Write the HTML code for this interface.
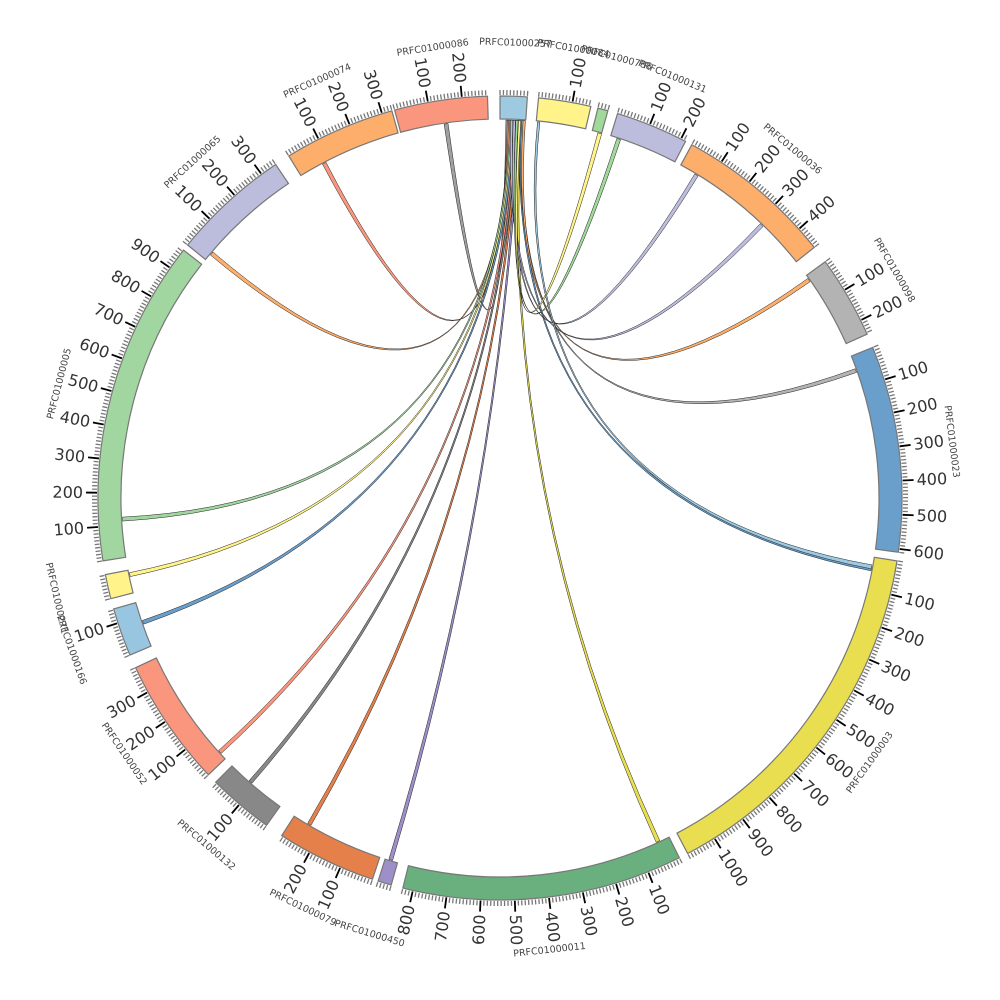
<!DOCTYPE html>
<html><head><meta charset="utf-8"><style>
html,body{margin:0;padding:0;background:#fff;width:1000px;height:1000px;overflow:hidden}
svg text{font-family:"DejaVu Sans","Liberation Sans",sans-serif}
</style></head><body>
<svg id="s" width="1000" height="1000" viewBox="0 0 1000 1000" xmlns="http://www.w3.org/2000/svg"></svg>
<script>
var CX=500,CY=498,RI=379,RO=402,K=1/20.5;
var segs=[
["PRFC01000257",0,80,"#9ecae1"],
["PRFC01000084",5.5,155,"#fff38a"],
["PRFC01000788",14.1,30,"#a1d99b"],
["PRFC01000131",17,215,"#bcbddc"],
["PRFC01000036",28.5,470,"#fdae6b"],
["PRFC01000098",54,245,"#b3b3b3"],
["PRFC01000023",68,610,"#6a9ecb"],
["PRFC01000003",99,1090,"#e8de50"],
["PRFC01000011",153.5,830,"#6aaf7e"],
["PRFC01000450",195.7,40,"#9e8fc8"],
["PRFC01000079",198.5,295,"#e6804a"],
["PRFC01000132",215.5,195,"#888888"],
["PRFC01000052",226.5,380,"#f9967d"],
["PRFC01000166",247,143,"#98c6e0"],
["PRFC01000271",255.5,72,"#fff38a"],
["PRFC01000005",261,965,"#a1d6a0"],
["PRFC01000065",309,350,"#bcbddc"],
["PRFC01000074",328.3,330,"#fdae6b"],
["PRFC01000086",344.8,275,"#f9967d"]];
function P(r,a){a=a*Math.PI/180;return [CX+r*Math.sin(a),CY-r*Math.cos(a)];}
function f(p){return p[0].toFixed(2)+","+p[1].toFixed(2);}
var h="";
function arcPath(r1,r2,a1,a2){var l=(a2-a1)>180?1:0;
return "M"+f(P(r2,a1))+"A"+r2+","+r2+" 0 "+l+" 1 "+f(P(r2,a2))+"L"+f(P(r1,a2))+"A"+r1+","+r1+" 0 "+l+" 0 "+f(P(r1,a1))+"Z";}
var chords=[
[0.9,351.5,"#a0a0a0"],[1.1,332,"#f9967d"],[1.3,310,"#fdae6b"],[1.5,266.5,"#a1d6a0"],
[1.7,258,"#fff38a"],[1.9,250.5,"#6a9ecb"],[2.1,227.5,"#f9967d"],[2.3,221,"#888888"],
[2.5,210,"#e6804a"],[2.7,196.5,"#9e8fc8"],[2.9,155,"#e8de50"],[3.1,100.5,"#6a9ecb"],
[3.3,70,"#b3b3b3"],[3.5,54.5,"#fdae6b"],[1.6,43.5,"#bcbddc"],[2.0,31,"#bcbddc"],
[2.4,18,"#a1d99b"],[2.8,15,"#fff38a"],[5.7,100.2,"#9ecae1"]];
var ws=0.35,wt=0.6;
chords.forEach(function(c){var a=c[0],b=c[1],r=RI-1;
h+='<path d="M'+f(P(r,a))+"A"+r+","+r+" 0 0 1 "+f(P(r,a+ws))+"Q"+CX+","+CY+" "+f(P(r,b))+"A"+r+","+r+" 0 0 1 "+f(P(r,b+wt))+"Q"+CX+","+CY+" "+f(P(r,a))+'Z" fill="'+c[2]+'" stroke="#222" stroke-width="0.5"/>';});
segs.forEach(function(s){var a1=s[1],a2=s[1]+s[2]*K;
h+='<path d="'+arcPath(RI,RO,a1,a2)+'" fill="'+s[3]+'" stroke="#777" stroke-width="1.2"/>';
for(var u=0;u<=s[2];u+=10){var a=a1+u*K;var maj=(u%100==0&&u>0);
var p1=P(RO+1,a),p2=P(RO+(maj?12:6),a);
h+='<line x1="'+p1[0].toFixed(2)+'" y1="'+p1[1].toFixed(2)+'" x2="'+p2[0].toFixed(2)+'" y2="'+p2[1].toFixed(2)+'" stroke="'+(maj?"#000":"#777")+'" stroke-width="'+(maj?1.8:1.3)+'"/>';
if(maj){var t=P(RO+15,a),rot,anc;
if(a<180){rot=a-90;anc="start";}else{rot=a+90;anc="end";}
h+='<text x="'+t[0].toFixed(2)+'" y="'+t[1].toFixed(2)+'" font-size="16" fill="#333" text-anchor="'+anc+'" dominant-baseline="central" transform="rotate('+rot.toFixed(2)+' '+t[0].toFixed(2)+' '+t[1].toFixed(2)+')">'+u+'</text>';}}
var m=(a1+a2)/2,t=P(455,m),rot=(m>90&&m<270)?m-180:m;
h+='<text x="'+t[0].toFixed(2)+'" y="'+t[1].toFixed(2)+'" font-size="9.5" fill="#444" text-anchor="middle" dominant-baseline="central" transform="rotate('+rot.toFixed(2)+' '+t[0].toFixed(2)+' '+t[1].toFixed(2)+')">'+s[0]+'</text>';});
document.getElementById("s").innerHTML=h;
</script>
</body></html>
